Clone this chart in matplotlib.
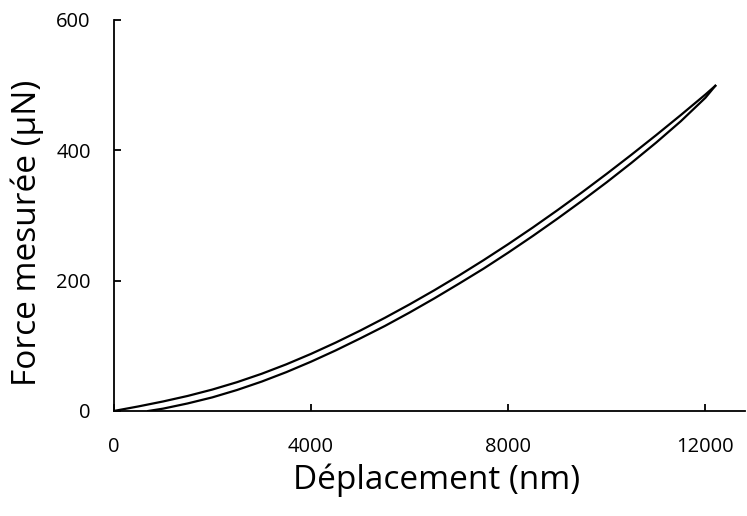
import matplotlib
matplotlib.use("Agg")
import matplotlib.pyplot as plt

# Loading curve (charge)
load_x = [0, 500, 1000, 1500, 2000, 2500, 3000, 3500, 4000, 4500, 5000, 5500,
          6000, 6500, 7000, 7500, 8000, 8500, 9000, 9500, 10000, 10500,
          11000, 11500, 12000, 12200]
load_f = [0, 7, 14.6, 23.1, 32.9, 44.2, 57.1, 71.6, 87.6, 104.9, 123.4, 143,
          163.6, 185.2, 207.8, 231.4, 256, 281.6, 308.2, 335.7, 364.1, 393.3,
          423.3, 454.1, 485.7, 499]

# Unloading curve (decharge)
unload_x = [700, 1000, 1500, 2000, 2500, 3000, 3500, 4000, 4500, 5000, 5500,
            6000, 6500, 7000, 7500, 8000, 8500, 9000, 9500, 10000, 10500,
            11000, 11500, 12000, 12200]
unload_f = [0, 3.6, 11.6, 20.9, 32.2, 45.1, 59.6, 75.6, 92.9, 111.4, 130.5,
            151.1, 172.7, 195.3, 218.4, 243, 268.6, 295.2, 322.7, 351.1, 380.8,
            411.8, 444.6, 480.7, 499]

x_ticks = [0, 4000, 8000, 12000]
y_ticks = [0, 200, 400, 600]

plt.rcParams['font.family'] = ['Open Sans', 'DejaVu Sans']

fig = plt.figure(figsize=(7.47, 5.16), dpi=100)
ax = fig.add_axes([0.1522, 0.2035, 0.845, 0.7578])

ax.plot(load_x, load_f, color='black', linewidth=1.6, solid_joinstyle='round')
ax.plot(unload_x, unload_f, color='black', linewidth=1.6, solid_joinstyle='round')

ax.set_xlim(0, 12800)
ax.set_ylim(0, 600)
ax.set_xticks(x_ticks)
ax.set_yticks(y_ticks)

# Only left and bottom axis lines, ticks pointing inside
for side in ['top', 'right']:
    ax.spines[side].set_visible(False)
for side in ['left', 'bottom']:
    ax.spines[side].set_linewidth(1.3)

ax.tick_params(axis='both', direction='in', length=5, width=1.3,
               labelsize=14.5, colors='black')
ax.tick_params(axis='y', pad=16.5)
ax.tick_params(axis='x', pad=19)

ax.set_xlabel('Déplacement (nm)', fontsize=24)
ax.set_ylabel('Force mesurée (µN)', fontsize=24)
ax.xaxis.set_label_coords(0.511, -0.1355)
ax.yaxis.set_label_coords(-0.1104, 0.455)

fig.savefig('out.png', dpi=100)
